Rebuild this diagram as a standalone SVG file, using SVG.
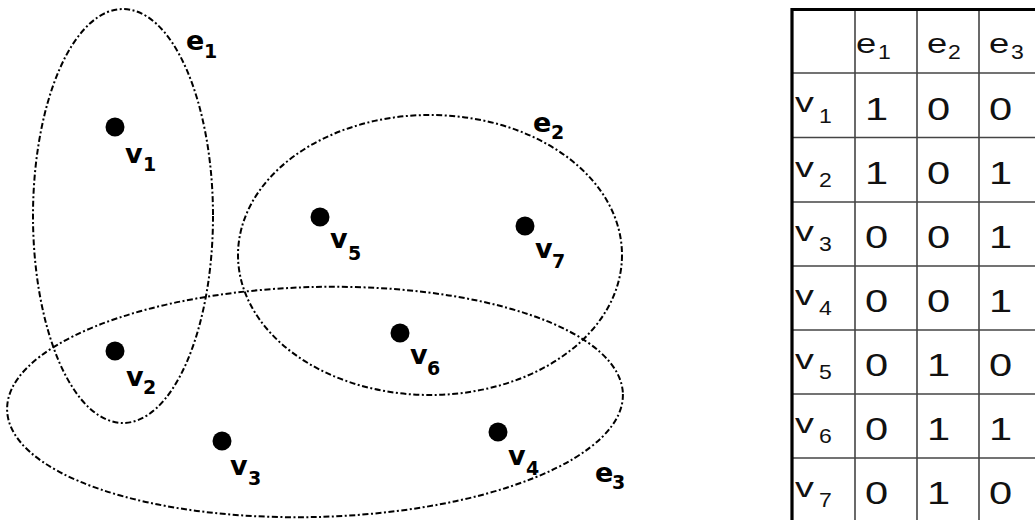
<svg xmlns="http://www.w3.org/2000/svg" width="1035" height="520" viewBox="0 0 1035 520">
<style>
.edge{fill:none;stroke:#000;stroke-width:2;stroke-dasharray:6 2.5 2 2.5}
.dot{fill:#000}
.lbl{font-family:"DejaVu Sans","Liberation Sans",sans-serif;font-weight:bold;font-size:27px;fill:#000}
.sub{font-size:19px}
.grid{stroke:#444;stroke-width:1.6;fill:none}
.border{stroke:#000;stroke-width:3.2;fill:none}
.cell{font-family:"Liberation Sans",Arial,sans-serif;font-size:32px;fill:#111}
.hd{font-family:"Liberation Sans",Arial,sans-serif;font-size:28px;fill:#111}
.hs{font-size:20px}
</style>
<rect width="1035" height="520" fill="#fff"/>
<g id="connectors">
  <ellipse id="e1" class="edge" cx="123" cy="216" rx="90" ry="207"/>
  <ellipse id="e2" class="edge" cx="430" cy="255" rx="192" ry="140"/>
  <ellipse id="e3" class="edge" cx="315" cy="402" rx="308" ry="115" transform="rotate(-1.5 315 402)"/>
</g>
<g id="edge-labels">
  <text class="lbl"><tspan x="186" y="50">e</tspan><tspan class="sub" x="204" y="58">1</tspan></text>
  <text class="lbl"><tspan x="533" y="132">e</tspan><tspan class="sub" x="551" y="139">2</tspan></text>
  <text class="lbl"><tspan x="595" y="482">e</tspan><tspan class="sub" x="612" y="489">3</tspan></text>
</g>
<g id="v1"><circle class="dot" cx="115" cy="127" r="9.5"/><text class="lbl"><tspan x="125" y="163">v</tspan><tspan class="sub" x="143" y="171">1</tspan></text></g>
<g id="v2"><circle class="dot" cx="115" cy="351" r="9.5"/><text class="lbl"><tspan x="126" y="386">v</tspan><tspan class="sub" x="143" y="394">2</tspan></text></g>
<g id="v3"><circle class="dot" cx="222" cy="441" r="9.5"/><text class="lbl"><tspan x="230" y="475">v</tspan><tspan class="sub" x="248" y="485">3</tspan></text></g>
<g id="v4"><circle class="dot" cx="498" cy="432" r="9.5"/><text class="lbl"><tspan x="508" y="465">v</tspan><tspan class="sub" x="526" y="475">4</tspan></text></g>
<g id="v5"><circle class="dot" cx="320" cy="217" r="9.5"/><text class="lbl"><tspan x="330" y="248">v</tspan><tspan class="sub" x="348" y="260">5</tspan></text></g>
<g id="v6"><circle class="dot" cx="400" cy="333" r="9.5"/><text class="lbl"><tspan x="410" y="364">v</tspan><tspan class="sub" x="427" y="375">6</tspan></text></g>
<g id="v7"><circle class="dot" cx="525" cy="226" r="9.5"/><text class="lbl"><tspan x="535" y="258">v</tspan><tspan class="sub" x="552" y="268">7</tspan></text></g>
<g id="incidence-table">
  <g class="grid">
    <line x1="855" y1="9" x2="855" y2="520"/>
    <line x1="917" y1="9" x2="917" y2="520"/>
    <line x1="979" y1="9" x2="979" y2="520"/>
    <line x1="792" y1="73" x2="1035" y2="73"/>
    <line x1="792" y1="137.5" x2="1035" y2="137.5"/>
    <line x1="792" y1="202" x2="1035" y2="202"/>
    <line x1="792" y1="266" x2="1035" y2="266"/>
    <line x1="792" y1="330" x2="1035" y2="330"/>
    <line x1="792" y1="394" x2="1035" y2="394"/>
    <line x1="792" y1="458" x2="1035" y2="458"/>
  </g>
  <path class="border" d="M792 520 V9.5 H1035"/>
  <g class="hd">
    <text transform="translate(856 53) scale(1.3 1)">e</text><text class="hs" transform="translate(878 59) scale(1.15 1)">1</text>
    <text transform="translate(927 53) scale(1.3 1)">e</text><text class="hs" transform="translate(948 59) scale(1.15 1)">2</text>
    <text transform="translate(989 53) scale(1.3 1)">e</text><text class="hs" transform="translate(1011 59) scale(1.15 1)">3</text>
  </g>
  <g class="hd">
    <text transform="translate(795 112) scale(1.35 1)">v</text><text class="hs" transform="translate(819 123) scale(1.15 1)">1</text>
    <text transform="translate(795 177) scale(1.35 1)">v</text><text class="hs" transform="translate(819 187) scale(1.15 1)">2</text>
    <text transform="translate(795 241) scale(1.35 1)">v</text><text class="hs" transform="translate(819 251) scale(1.15 1)">3</text>
    <text transform="translate(795 305) scale(1.35 1)">v</text><text class="hs" transform="translate(819 315) scale(1.15 1)">4</text>
    <text transform="translate(795 369) scale(1.35 1)">v</text><text class="hs" transform="translate(819 379) scale(1.15 1)">5</text>
    <text transform="translate(795 433) scale(1.35 1)">v</text><text class="hs" transform="translate(819 443) scale(1.15 1)">6</text>
    <text transform="translate(795 497) scale(1.35 1)">v</text><text class="hs" transform="translate(819 507) scale(1.15 1)">7</text>
  </g>
  <g class="cell">
    <text transform="translate(865 120) scale(1.3 1)">1</text><text transform="translate(927 120) scale(1.3 1)">0</text><text transform="translate(989 120) scale(1.3 1)">0</text>
    <text transform="translate(865 184) scale(1.3 1)">1</text><text transform="translate(927 184) scale(1.3 1)">0</text><text transform="translate(989 184) scale(1.3 1)">1</text>
    <text transform="translate(865 248) scale(1.3 1)">0</text><text transform="translate(927 248) scale(1.3 1)">0</text><text transform="translate(989 248) scale(1.3 1)">1</text>
    <text transform="translate(865 312) scale(1.3 1)">0</text><text transform="translate(927 312) scale(1.3 1)">0</text><text transform="translate(989 312) scale(1.3 1)">1</text>
    <text transform="translate(865 376) scale(1.3 1)">0</text><text transform="translate(927 376) scale(1.3 1)">1</text><text transform="translate(989 376) scale(1.3 1)">0</text>
    <text transform="translate(865 440) scale(1.3 1)">0</text><text transform="translate(927 440) scale(1.3 1)">1</text><text transform="translate(989 440) scale(1.3 1)">1</text>
    <text transform="translate(865 504) scale(1.3 1)">0</text><text transform="translate(927 504) scale(1.3 1)">1</text><text transform="translate(989 504) scale(1.3 1)">0</text>
  </g>
</g>
</svg>
